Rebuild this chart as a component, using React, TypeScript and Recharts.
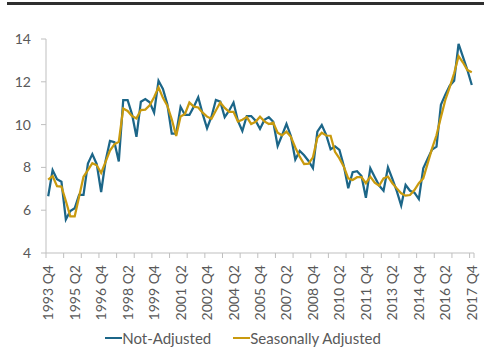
import { CartesianGrid, Legend, Line, LineChart, XAxis, YAxis } from "recharts"

const FONT = "Lato, 'Open Sans', sans-serif"
const TEXT = "#595959"
const AXIS = "#bfbfbf"
const BLUE = "#1c6688"
const GOLD = "#c99a0e"

// 1993 Q4 .. 2017 Q4, one entry per quarter
const quarters: string[] = []
for (let y = 1993; y <= 2017; y++) {
  for (let q = 1; q <= 4; q++) {
    if (y === 1993 && q < 4) continue
    quarters.push(`${y} Q${q}`)
  }
}

const notAdjusted = [
  6.65, 7.87, 7.45, 7.33, 5.57, 5.96, 6.09, 6.72, 6.72, 8.18, 8.62, 8.15, 6.85, 8.3, 9.24, 9.18,
  8.28, 11.14, 11.14, 10.48, 9.43, 11.07, 11.19, 11.04, 10.56, 12.05, 11.67, 10.95, 9.58, 9.58, 10.83, 10.45,
  10.45, 10.84, 11.28, 10.5, 9.83, 10.37, 11.15, 11.07, 10.35, 10.65, 11.03, 10.17, 9.7, 10.4, 10.4, 10.18,
  9.8, 10.22, 10.35, 10.13, 9.0, 9.5, 10.03, 9.47, 8.37, 8.77, 8.57, 8.3, 7.96, 9.67, 9.98, 9.52,
  8.85, 8.98, 8.82, 8.07, 7.03, 7.78, 7.82, 7.6, 6.58, 7.96, 7.55, 7.15, 6.91, 8.0, 7.46, 6.89,
  6.22, 7.18, 6.91, 6.82, 6.52, 7.96, 8.4, 8.84, 8.97, 10.92, 11.4, 11.82, 12.05, 13.77, 13.17, 12.55,
  11.85,
]

const seasonallyAdjusted = [
  7.43, 7.6, 7.12, 7.1, 6.43, 5.71, 5.71, 6.63, 7.56, 7.87, 8.2, 8.1, 7.74, 8.26, 8.79, 9.08,
  9.2, 10.75, 10.64, 10.4, 10.29, 10.68, 10.7, 10.9, 11.28, 11.74, 11.25, 10.88, 10.25, 9.47, 10.38, 10.5,
  11.03, 10.84, 10.8, 10.56, 10.37, 10.27, 10.66, 11.03, 10.78, 10.6, 10.6, 10.14, 10.23, 10.35, 10.03, 10.13,
  10.37, 10.15, 10.03, 10.09, 9.62, 9.5, 9.67, 9.43, 8.93, 8.5, 8.16, 8.17, 8.47, 9.38, 9.62, 9.49,
  9.48, 8.73, 8.42, 8.03, 7.49, 7.41, 7.54, 7.54, 7.26, 7.57, 7.29, 7.15, 7.49, 7.57, 7.26, 7.02,
  6.79, 6.68, 6.71, 6.94, 7.26, 7.49, 8.19, 8.89, 9.5, 10.35, 11.15, 11.75, 12.4, 13.2, 12.9, 12.55,
  12.45,
]

const yTicks = [4, 6, 8, 10, 12, 14]

// labelled quarters every 6, tick marks every 4 (on category boundaries)
const labelTicks = quarters.map((_, i) => i).filter((i) => i % 6 === 0)
const markTicks = quarters.map((_, i) => i - 0.5).filter((_, i) => i % 4 === 0).concat([quarters.length - 0.5])
const xTicks = [...markTicks, ...labelTicks].sort((a, b) => a - b)

const data = quarters.map((q, i) => ({
  idx: i,
  quarter: q,
  notAdjusted: notAdjusted[i],
  seasonallyAdjusted: seasonallyAdjusted[i],
}))

function QuarterTick(props: any) {
  const { x, y, payload } = props
  const v = payload.value as number
  if (!Number.isInteger(v)) {
    return <line x1={x} x2={x} y1={y} y2={y + 5} stroke={AXIS} />
  }
  return (
    <text
      transform={`translate(${x + 5},${y + 12}) rotate(-90)`}
      textAnchor="end"
      fill={TEXT}
      fontSize={14}
      fontFamily={FONT}
    >
      {quarters[v]}
    </text>
  )
}

function LegendBox() {
  const item = (color: string, label: string) => (
    <span style={{ display: "inline-flex", alignItems: "center" }}>
      <span style={{ display: "inline-block", width: 17, height: 2, background: color }} />
      <span>{label}</span>
    </span>
  )
  return (
    <div
      style={{
        display: "flex",
        justifyContent: "center",
        gap: 22,
        fontFamily: FONT,
        fontSize: 15,
        color: TEXT,
        paddingLeft: 12,
        paddingTop: 1,
        lineHeight: "18px",
      }}
    >
      {item(BLUE, "Not-Adjusted")}
      {item(GOLD, "Seasonally Adjusted")}
    </div>
  )
}

export default function App() {
  return (
    <div style={{ position: "absolute", left: 0, top: 0, width: 486, height: 356, background: "#fff" }}>
      <div style={{ position: "absolute", left: 7, top: 2, width: 477, height: 3, background: "#2e2e2e" }} />
      <LineChart width={486} height={356} data={data} margin={{ top: 39, right: 12, bottom: 0, left: 0 }}>
        <CartesianGrid stroke="none" />
        <XAxis
          dataKey="idx"
          type="number"
          domain={[-0.5, quarters.length - 0.5]}
          ticks={xTicks}
          interval={0}
          height={75}
          tickSize={0}
          tickMargin={0}
          tickLine={false}
          axisLine={{ stroke: AXIS }}
          tick={<QuarterTick />}
        />
        <YAxis
          domain={[4, 14]}
          ticks={yTicks}
          width={46}
          tickSize={5}
          tickMargin={10}
          axisLine={{ stroke: AXIS }}
          tickLine={{ stroke: AXIS }}
          tick={{ fill: TEXT, fontSize: 14, fontFamily: FONT }}
        />
        <Legend verticalAlign="bottom" height={28} content={<LegendBox />} />
        <Line
          dataKey="notAdjusted"
          stroke={BLUE}
          strokeWidth={2.25}
          dot={false}
          isAnimationActive={false}
          name="Not-Adjusted"
        />
        <Line
          dataKey="seasonallyAdjusted"
          stroke={GOLD}
          strokeWidth={2.25}
          dot={false}
          isAnimationActive={false}
          name="Seasonally Adjusted"
        />
      </LineChart>
    </div>
  )
}
